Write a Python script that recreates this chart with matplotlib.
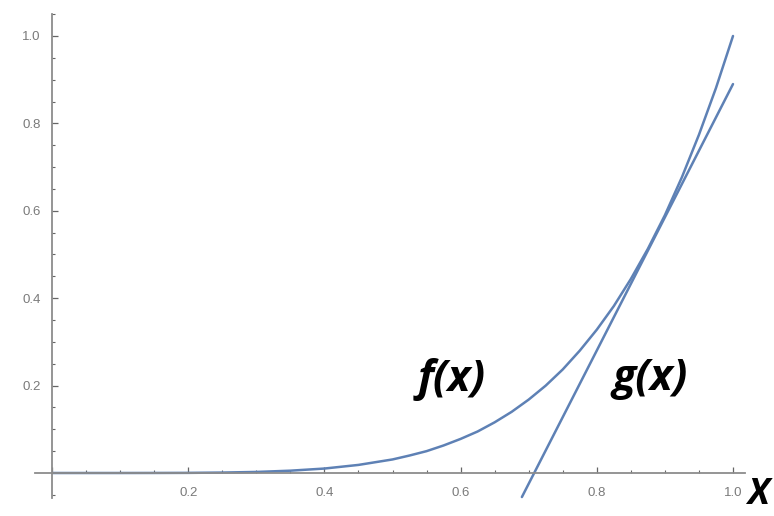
import numpy as np
import matplotlib
matplotlib.use('Agg')
import matplotlib.pyplot as plt
from matplotlib.ticker import FixedLocator

# Values
f_x = [0.0, 0.05, 0.1, 0.15, 0.2, 0.25, 0.3, 0.35, 0.4, 0.45, 0.5, 0.525, 0.55, 0.575,
       0.6, 0.625, 0.65, 0.675, 0.7, 0.725, 0.75, 0.775, 0.8, 0.825, 0.85, 0.875,
       0.9, 0.925, 0.95, 0.975, 1.0]
f_y = [0.0, 0.0, 0.0, 0.0001, 0.0003, 0.001, 0.0024, 0.0053, 0.0102, 0.0185, 0.031, 0.040,
       0.050, 0.063, 0.078, 0.095, 0.116, 0.140, 0.168, 0.200, 0.237, 0.280, 0.328, 0.382,
       0.444, 0.513, 0.590, 0.677, 0.774, 0.881, 1.0]

g_x = [0.69, 1.0]
g_y = [-0.055, 0.89]

tick_vals = [0.2, 0.4, 0.6, 0.8, 1.0]
tick_labels = ['0.2', '0.4', '0.6', '0.8', '1.0']
minor_x = [0.05, 0.1, 0.15, 0.25, 0.3, 0.35, 0.45, 0.5, 0.55, 0.65, 0.7, 0.75, 0.85, 0.9, 0.95]
minor_y = [-0.05, 0.05, 0.1, 0.15, 0.25, 0.3, 0.35, 0.45, 0.5, 0.55, 0.65, 0.7, 0.75,
           0.85, 0.9, 0.95, 1.05]

line_color = '#5e81b5'
axis_color = '#8c8c8c'
label_color = '#7a7a7a'

fig = plt.figure(figsize=(7.74, 5.16), dpi=100)
ax = fig.add_axes([0, 0, 1, 1])

# pixel mapping: x=0 -> 52px, x=1 -> 733px; y=0 -> 473px, y=1 -> 36px (from top)
ax.set_xlim(-52 / 681, (774 - 52) / 681)
ax.set_ylim((473 - 516) / 437, 473 / 437)

ax.plot(f_x, f_y, color=line_color, lw=1.8, solid_capstyle='round')
ax.plot(g_x, g_y, color=line_color, lw=1.8, solid_capstyle='round')

for side in ['top', 'right']:
    ax.spines[side].set_visible(False)
ax.spines['left'].set_position(('data', 0))
ax.spines['bottom'].set_position(('data', 0))
ax.spines['left'].set_bounds(-0.057, 1.05)
ax.spines['bottom'].set_bounds(-0.025, 1.018)
for side in ['left', 'bottom']:
    ax.spines[side].set_color(axis_color)
    ax.spines[side].set_linewidth(1.3)

ax.xaxis.set_major_locator(FixedLocator([0.0] + tick_vals))
ax.yaxis.set_major_locator(FixedLocator(tick_vals))
ax.xaxis.set_minor_locator(FixedLocator(minor_x))
ax.yaxis.set_minor_locator(FixedLocator(minor_y))
ax.set_xticklabels([''] + tick_labels)
ax.set_yticklabels(tick_labels)

ax.tick_params(which='major', direction='in', length=4, width=0.9, color='#666666',
               labelsize=9.5, labelcolor=label_color)
ax.tick_params(which='minor', direction='in', length=2, width=0.8, color='#666666')
ax.tick_params(axis='x', pad=10)
ax.tick_params(axis='y', pad=8)
for lab in ax.get_xticklabels() + ax.get_yticklabels():
    lab.set_family('Liberation Sans')

# annotations
font_kw = dict(family='Open Sans', fontweight='bold', fontstyle='italic', color='black')
ax.text(0.587, 0.213, 'f(x)', fontsize=31, ha='center', va='center', **font_kw)
ax.text(0.878, 0.217, 'g(x)', fontsize=31, ha='center', va='center', **font_kw)
ax.text(1.036, -0.05, 'X', fontsize=26, ha='center', va='center', **font_kw)

fig.savefig('out.png', dpi=100)
